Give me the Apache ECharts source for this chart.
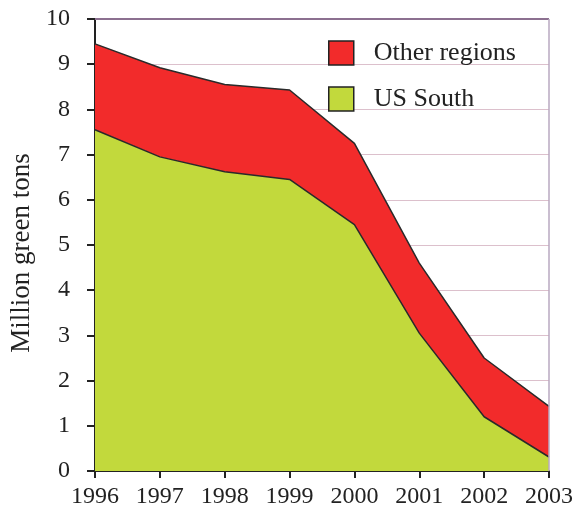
<!DOCTYPE html>
<html>
<head>
<meta charset="utf-8">
<style>
    html, body { margin: 0; padding: 0; background: #fff; }
    #container { width: 579px; height: 512px; }
</style>
</head>
<body>
<div id="container"></div>
<script src="https://cdn.jsdelivr.net/npm/echarts@6/dist/echarts.min.js"></script>
<script type="text/javascript">
    // data
    var years = ['1996', '1997', '1998', '1999', '2000', '2001', '2002', '2003'];
    var usSouth = [7.55, 6.95, 6.62, 6.45, 5.45, 3.05, 1.2, 0.31];
    var otherRegions = [1.9, 1.97, 1.93, 1.98, 1.8, 1.55, 1.3, 1.12];
    var yTicks = [0, 1, 2, 3, 4, 5, 6, 7, 8, 9, 10];

    var serif = '"Liberation Serif", "DejaVu Serif", serif';
    var myChart = echarts.init(document.getElementById('container'));

    var option = {
        backgroundColor: '#fff',
        animation: false,
        grid: { left: 95, right: 30, top: 19, bottom: 41 },
        legend: {
            orient: 'vertical',
            left: 323,
            top: 35,
            itemWidth: 25,
            itemHeight: 24,
            itemGap: 20,
            icon: 'rect',
            data: ['Other regions', 'US South'],
            itemStyle: { borderColor: '#222', borderWidth: 1.5 },
            textStyle: { fontFamily: serif, fontSize: 26, color: '#222', padding: [0, 0, 0, 15] }
        },
        xAxis: {
            type: 'category',
            boundaryGap: false,
            data: years,
            axisLine: { lineStyle: { color: '#222', width: 2 } },
            axisTick: { alignWithLabel: true, length: 7, lineStyle: { color: '#222', width: 2 } },
            axisLabel: { fontFamily: serif, fontSize: 24, color: '#222', margin: 14 },
            splitLine: { show: false }
        },
        yAxis: {
            type: 'value',
            min: yTicks[0],
            max: yTicks[yTicks.length - 1],
            interval: 1,
            name: 'Million green tons',
            nameLocation: 'middle',
            nameGap: 56,
            nameTextStyle: { fontFamily: serif, fontSize: 27, color: '#222', padding: [0, 16, 0, 0] },
            axisLine: { show: true, lineStyle: { color: '#222', width: 2 } },
            axisTick: { show: true, length: 8, lineStyle: { color: '#222', width: 2 } },
            axisLabel: { fontFamily: serif, fontSize: 24, color: '#222', margin: 25 },
            splitLine: { show: true, lineStyle: { color: '#dcc0cc', width: 1 } }
        },
        series: [
            {
                name: 'US South',
                type: 'line',
                stack: 'total',
                data: usSouth,
                symbol: 'none',
                color: '#c2d93c',
                lineStyle: { color: '#2a2a2a', width: 1.5 },
                areaStyle: { color: '#c2d93c', opacity: 1 },
                itemStyle: { color: '#c2d93c' }
            },
            {
                name: 'Other regions',
                type: 'line',
                stack: 'total',
                data: otherRegions,
                symbol: 'none',
                color: '#f22b2b',
                lineStyle: { color: '#2a2a2a', width: 1.5 },
                areaStyle: { color: '#f22b2b', opacity: 1 },
                itemStyle: { color: '#f22b2b' },
                markLine: {
                    silent: true,
                    symbol: 'none',
                    label: { show: false },
                    data: [
                        [{ coord: [years[0], 10], lineStyle: { color: '#8c7090', width: 2, type: 'solid' } },
                         { coord: [years[years.length - 1], 10] }],
                        [{ coord: [years[years.length - 1], 0], lineStyle: { color: '#b8a8c0', width: 1.5, type: 'solid' } },
                         { coord: [years[years.length - 1], 10] }]
                    ]
                }
            }
        ]
    };
    myChart.setOption(option);
</script>
</body>
</html>
